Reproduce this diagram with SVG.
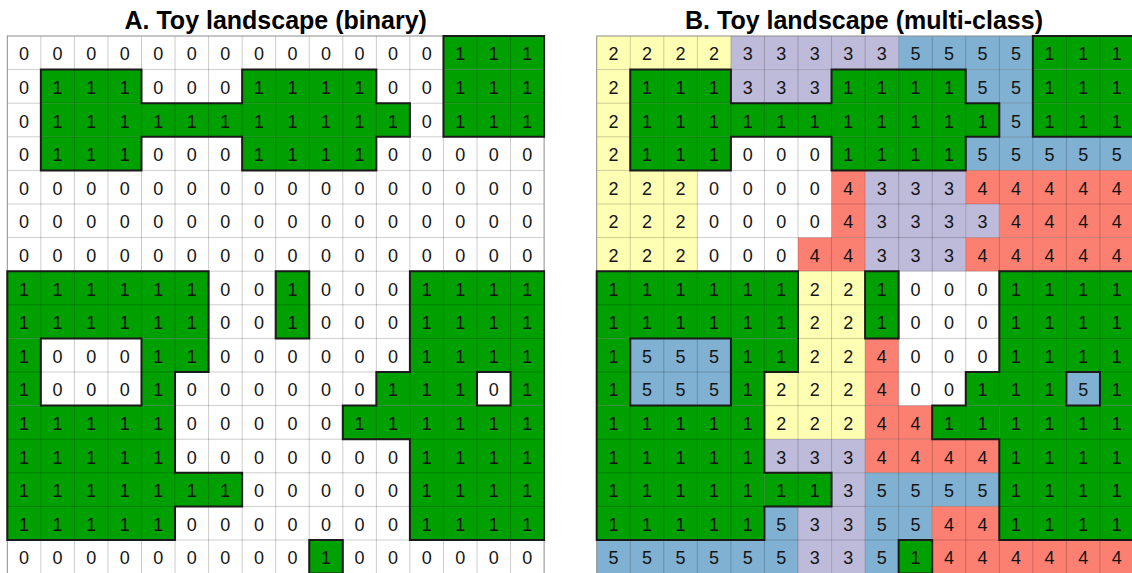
<svg xmlns="http://www.w3.org/2000/svg" xmlns:xlink="http://www.w3.org/1999/xlink" width="1132" height="573" viewBox="0 0 1132 573">
<style>
.title{font-family:"Liberation Sans",Arial,sans-serif;font-weight:bold;font-size:25px;fill:#000;text-anchor:middle}
.num text{font-family:"Liberation Sans",Arial,sans-serif;font-size:18px;fill:#141414;text-anchor:middle}
.v1{fill:#00A000}.v2{fill:#FFFFB3}.v3{fill:#BEBADA}.v4{fill:#FB8072}.v5{fill:#80B1D3}
.bg{fill:#fff}
.grid{fill:none;stroke:#000;stroke-opacity:0.2;stroke-width:1}
.frame{fill:none;stroke:#8c8c8c;stroke-width:1}
.outline{fill:none;stroke:#1a1a1a;stroke-width:2;stroke-linecap:square}
</style>
<defs>
<g id="habitat" class="v1">
<rect x="436.15" y="0" width="100.65" height="33.6"/>
<rect x="33.55" y="33.6" width="100.65" height="33.6"/><rect x="234.85" y="33.6" width="134.2" height="33.6"/><rect x="436.15" y="33.6" width="100.65" height="33.6"/>
<rect x="33.55" y="67.2" width="369.05" height="33.6"/><rect x="436.15" y="67.2" width="100.65" height="33.6"/>
<rect x="33.55" y="100.8" width="100.65" height="33.6"/><rect x="234.85" y="100.8" width="134.2" height="33.6"/>
<rect x="0" y="235.2" width="201.3" height="67.2"/><rect x="268.4" y="235.2" width="33.55" height="67.2"/><rect x="402.6" y="235.2" width="134.2" height="100.8"/>
<rect x="0" y="302.4" width="33.55" height="67.2"/><rect x="134.2" y="302.4" width="67.1" height="33.6"/>
<rect x="134.2" y="336" width="33.55" height="33.6"/><rect x="369.05" y="336" width="100.65" height="33.6"/><rect x="503.25" y="336" width="33.55" height="33.6"/>
<rect x="0" y="369.6" width="167.75" height="134.4"/><rect x="335.5" y="369.6" width="67.1" height="33.6"/><rect x="402.6" y="369.6" width="134.2" height="134.4"/>
<rect x="167.75" y="436.8" width="67.1" height="33.6"/>
<rect x="301.95" y="504" width="33.55" height="33.6"/>
</g>
<path id="gridlines" class="grid" d="M33.55 0V537.6M67.1 0V537.6M100.65 0V537.6M134.2 0V537.6M167.75 0V537.6M201.3 0V537.6M234.85 0V537.6M268.4 0V537.6M301.95 0V537.6M335.5 0V537.6M369.05 0V537.6M402.6 0V537.6M436.15 0V537.6M469.7 0V537.6M503.25 0V537.6M0 33.6H536.8M0 67.2H536.8M0 100.8H536.8M0 134.4H536.8M0 168H536.8M0 201.6H536.8M0 235.2H536.8M0 268.8H536.8M0 302.4H536.8M0 336H536.8M0 369.6H536.8M0 403.2H536.8M0 436.8H536.8M0 470.4H536.8M0 504H536.8"/>
<path id="habitatEdge" class="outline" d="M436.15 0H536.8M33.55 33.6H134.2M234.85 33.6H369.05M134.2 67.2H234.85M369.05 67.2H402.6M134.2 100.8H234.85M369.05 100.8H402.6M436.15 100.8H536.8M33.55 134.4H134.2M234.85 134.4H369.05M0 235.2H201.3M268.4 235.2H301.95M402.6 235.2H536.8M33.55 302.4H134.2M268.4 302.4H301.95M167.75 336H201.3M369.05 336H402.6M469.7 336H503.25M33.55 369.6H134.2M335.5 369.6H369.05M469.7 369.6H503.25M335.5 403.2H402.6M167.75 436.8H234.85M167.75 470.4H234.85M0 504H167.75M301.95 504H335.5M402.6 504H536.8M301.95 537.6H335.5M0 235.2V504M33.55 33.6V134.4M33.55 302.4V369.6M134.2 33.6V67.2M134.2 100.8V134.4M134.2 302.4V369.6M167.75 336V436.8M167.75 470.4V504M201.3 235.2V336M234.85 33.6V67.2M234.85 100.8V134.4M234.85 436.8V470.4M268.4 235.2V302.4M301.95 235.2V302.4M301.95 504V537.6M335.5 369.6V403.2M335.5 504V537.6M369.05 33.6V67.2M369.05 100.8V134.4M369.05 336V369.6M402.6 67.2V100.8M402.6 235.2V336M402.6 403.2V504M436.15 0V100.8M469.7 336V369.6M503.25 336V369.6M536.8 0V100.8M536.8 235.2V504"/>
</defs>

<text class="title" x="275.7" y="29">A. Toy landscape (binary)</text>
<text class="title" x="864" y="29">B. Toy landscape (multi-class)</text>

<g id="panelA" transform="translate(7.3,36)">
<rect class="bg" x="0" y="0" width="536.8" height="537.6"/>
<use xlink:href="#habitat" href="#habitat"/>
<use xlink:href="#gridlines" href="#gridlines"/>
<rect class="frame" x="0" y="0" width="536.8" height="537.6"/>
<use xlink:href="#habitatEdge" href="#habitatEdge"/>
<g class="num">
<g transform="translate(0,24.3)"><text x="16.78">0</text><text x="50.33">0</text><text x="83.88">0</text><text x="117.43">0</text><text x="150.98">0</text><text x="184.53">0</text><text x="218.08">0</text><text x="251.63">0</text><text x="285.18">0</text><text x="318.73">0</text><text x="352.28">0</text><text x="385.83">0</text><text x="419.38">0</text><text x="452.93">1</text><text x="486.48">1</text><text x="520.03">1</text></g>
<g transform="translate(0,57.9)"><text x="16.78">0</text><text x="50.33">1</text><text x="83.88">1</text><text x="117.43">1</text><text x="150.98">0</text><text x="184.53">0</text><text x="218.08">0</text><text x="251.63">1</text><text x="285.18">1</text><text x="318.73">1</text><text x="352.28">1</text><text x="385.83">0</text><text x="419.38">0</text><text x="452.93">1</text><text x="486.48">1</text><text x="520.03">1</text></g>
<g transform="translate(0,91.5)"><text x="16.78">0</text><text x="50.33">1</text><text x="83.88">1</text><text x="117.43">1</text><text x="150.98">1</text><text x="184.53">1</text><text x="218.08">1</text><text x="251.63">1</text><text x="285.18">1</text><text x="318.73">1</text><text x="352.28">1</text><text x="385.83">1</text><text x="419.38">0</text><text x="452.93">1</text><text x="486.48">1</text><text x="520.03">1</text></g>
<g transform="translate(0,125.1)"><text x="16.78">0</text><text x="50.33">1</text><text x="83.88">1</text><text x="117.43">1</text><text x="150.98">0</text><text x="184.53">0</text><text x="218.08">0</text><text x="251.63">1</text><text x="285.18">1</text><text x="318.73">1</text><text x="352.28">1</text><text x="385.83">0</text><text x="419.38">0</text><text x="452.93">0</text><text x="486.48">0</text><text x="520.03">0</text></g>
<g transform="translate(0,158.7)"><text x="16.78">0</text><text x="50.33">0</text><text x="83.88">0</text><text x="117.43">0</text><text x="150.98">0</text><text x="184.53">0</text><text x="218.08">0</text><text x="251.63">0</text><text x="285.18">0</text><text x="318.73">0</text><text x="352.28">0</text><text x="385.83">0</text><text x="419.38">0</text><text x="452.93">0</text><text x="486.48">0</text><text x="520.03">0</text></g>
<g transform="translate(0,192.3)"><text x="16.78">0</text><text x="50.33">0</text><text x="83.88">0</text><text x="117.43">0</text><text x="150.98">0</text><text x="184.53">0</text><text x="218.08">0</text><text x="251.63">0</text><text x="285.18">0</text><text x="318.73">0</text><text x="352.28">0</text><text x="385.83">0</text><text x="419.38">0</text><text x="452.93">0</text><text x="486.48">0</text><text x="520.03">0</text></g>
<g transform="translate(0,225.9)"><text x="16.78">0</text><text x="50.33">0</text><text x="83.88">0</text><text x="117.43">0</text><text x="150.98">0</text><text x="184.53">0</text><text x="218.08">0</text><text x="251.63">0</text><text x="285.18">0</text><text x="318.73">0</text><text x="352.28">0</text><text x="385.83">0</text><text x="419.38">0</text><text x="452.93">0</text><text x="486.48">0</text><text x="520.03">0</text></g>
<g transform="translate(0,259.5)"><text x="16.78">1</text><text x="50.33">1</text><text x="83.88">1</text><text x="117.43">1</text><text x="150.98">1</text><text x="184.53">1</text><text x="218.08">0</text><text x="251.63">0</text><text x="285.18">1</text><text x="318.73">0</text><text x="352.28">0</text><text x="385.83">0</text><text x="419.38">1</text><text x="452.93">1</text><text x="486.48">1</text><text x="520.03">1</text></g>
<g transform="translate(0,293.1)"><text x="16.78">1</text><text x="50.33">1</text><text x="83.88">1</text><text x="117.43">1</text><text x="150.98">1</text><text x="184.53">1</text><text x="218.08">0</text><text x="251.63">0</text><text x="285.18">1</text><text x="318.73">0</text><text x="352.28">0</text><text x="385.83">0</text><text x="419.38">1</text><text x="452.93">1</text><text x="486.48">1</text><text x="520.03">1</text></g>
<g transform="translate(0,326.7)"><text x="16.78">1</text><text x="50.33">0</text><text x="83.88">0</text><text x="117.43">0</text><text x="150.98">1</text><text x="184.53">1</text><text x="218.08">0</text><text x="251.63">0</text><text x="285.18">0</text><text x="318.73">0</text><text x="352.28">0</text><text x="385.83">0</text><text x="419.38">1</text><text x="452.93">1</text><text x="486.48">1</text><text x="520.03">1</text></g>
<g transform="translate(0,360.3)"><text x="16.78">1</text><text x="50.33">0</text><text x="83.88">0</text><text x="117.43">0</text><text x="150.98">1</text><text x="184.53">0</text><text x="218.08">0</text><text x="251.63">0</text><text x="285.18">0</text><text x="318.73">0</text><text x="352.28">0</text><text x="385.83">1</text><text x="419.38">1</text><text x="452.93">1</text><text x="486.48">0</text><text x="520.03">1</text></g>
<g transform="translate(0,393.9)"><text x="16.78">1</text><text x="50.33">1</text><text x="83.88">1</text><text x="117.43">1</text><text x="150.98">1</text><text x="184.53">0</text><text x="218.08">0</text><text x="251.63">0</text><text x="285.18">0</text><text x="318.73">0</text><text x="352.28">1</text><text x="385.83">1</text><text x="419.38">1</text><text x="452.93">1</text><text x="486.48">1</text><text x="520.03">1</text></g>
<g transform="translate(0,427.5)"><text x="16.78">1</text><text x="50.33">1</text><text x="83.88">1</text><text x="117.43">1</text><text x="150.98">1</text><text x="184.53">0</text><text x="218.08">0</text><text x="251.63">0</text><text x="285.18">0</text><text x="318.73">0</text><text x="352.28">0</text><text x="385.83">0</text><text x="419.38">1</text><text x="452.93">1</text><text x="486.48">1</text><text x="520.03">1</text></g>
<g transform="translate(0,461.1)"><text x="16.78">1</text><text x="50.33">1</text><text x="83.88">1</text><text x="117.43">1</text><text x="150.98">1</text><text x="184.53">1</text><text x="218.08">1</text><text x="251.63">0</text><text x="285.18">0</text><text x="318.73">0</text><text x="352.28">0</text><text x="385.83">0</text><text x="419.38">1</text><text x="452.93">1</text><text x="486.48">1</text><text x="520.03">1</text></g>
<g transform="translate(0,494.7)"><text x="16.78">1</text><text x="50.33">1</text><text x="83.88">1</text><text x="117.43">1</text><text x="150.98">1</text><text x="184.53">0</text><text x="218.08">0</text><text x="251.63">0</text><text x="285.18">0</text><text x="318.73">0</text><text x="352.28">0</text><text x="385.83">0</text><text x="419.38">1</text><text x="452.93">1</text><text x="486.48">1</text><text x="520.03">1</text></g>
<g transform="translate(0,528.3)"><text x="16.78">0</text><text x="50.33">0</text><text x="83.88">0</text><text x="117.43">0</text><text x="150.98">0</text><text x="184.53">0</text><text x="218.08">0</text><text x="251.63">0</text><text x="285.18">0</text><text x="318.73">1</text><text x="352.28">0</text><text x="385.83">0</text><text x="419.38">0</text><text x="452.93">0</text><text x="486.48">0</text><text x="520.03">0</text></g>
</g>
</g>

<g id="panelB" transform="translate(596.7,36)">
<rect class="bg" x="0" y="0" width="536.8" height="537.6"/>
<use xlink:href="#habitat" href="#habitat"/>
<g id="classes">
<rect class="v2" x="0" y="0" width="134.2" height="33.6"/><rect class="v3" x="134.2" y="0" width="167.75" height="33.6"/><rect class="v5" x="301.95" y="0" width="134.2" height="33.6"/>
<rect class="v2" x="0" y="33.6" width="33.55" height="100.8"/><rect class="v3" x="134.2" y="33.6" width="100.65" height="33.6"/><rect class="v5" x="369.05" y="33.6" width="67.1" height="33.6"/>
<rect class="v5" x="402.6" y="67.2" width="33.55" height="33.6"/>
<rect class="v5" x="369.05" y="100.8" width="167.75" height="33.6"/>
<rect class="v2" x="0" y="134.4" width="100.65" height="100.8"/><rect class="v4" x="234.85" y="134.4" width="33.55" height="67.2"/><rect class="v3" x="268.4" y="134.4" width="100.65" height="100.8"/><rect class="v4" x="369.05" y="134.4" width="167.75" height="33.6"/>
<rect class="v3" x="369.05" y="168" width="33.55" height="33.6"/><rect class="v4" x="402.6" y="168" width="134.2" height="33.6"/>
<rect class="v4" x="201.3" y="201.6" width="67.1" height="33.6"/><rect class="v4" x="369.05" y="201.6" width="167.75" height="33.6"/>
<rect class="v2" x="201.3" y="235.2" width="67.1" height="168"/>
<rect class="v5" x="33.55" y="302.4" width="100.65" height="67.2"/><rect class="v4" x="268.4" y="302.4" width="33.55" height="67.2"/>
<rect class="v2" x="167.75" y="336" width="33.55" height="67.2"/><rect class="v5" x="469.7" y="336" width="33.55" height="33.6"/>
<rect class="v4" x="268.4" y="369.6" width="67.1" height="33.6"/>
<rect class="v3" x="167.75" y="403.2" width="100.65" height="33.6"/><rect class="v4" x="268.4" y="403.2" width="134.2" height="33.6"/>
<rect class="v3" x="234.85" y="436.8" width="33.55" height="100.8"/><rect class="v5" x="268.4" y="436.8" width="134.2" height="33.6"/>
<rect class="v5" x="167.75" y="470.4" width="33.55" height="33.6"/><rect class="v3" x="201.3" y="470.4" width="33.55" height="67.2"/><rect class="v5" x="268.4" y="470.4" width="67.1" height="33.6"/><rect class="v4" x="335.5" y="470.4" width="67.1" height="33.6"/>
<rect class="v5" x="0" y="504" width="201.3" height="33.6"/><rect class="v5" x="268.4" y="504" width="33.55" height="33.6"/><rect class="v4" x="335.5" y="504" width="201.3" height="33.6"/>
</g>
<use xlink:href="#gridlines" href="#gridlines"/>
<rect class="frame" x="0" y="0" width="536.8" height="537.6"/>
<use xlink:href="#habitatEdge" href="#habitatEdge"/>
<g class="num">
<g transform="translate(0,24.3)"><text x="16.78">2</text><text x="50.33">2</text><text x="83.88">2</text><text x="117.43">2</text><text x="150.98">3</text><text x="184.53">3</text><text x="218.08">3</text><text x="251.63">3</text><text x="285.18">3</text><text x="318.73">5</text><text x="352.28">5</text><text x="385.83">5</text><text x="419.38">5</text><text x="452.93">1</text><text x="486.48">1</text><text x="520.03">1</text></g>
<g transform="translate(0,57.9)"><text x="16.78">2</text><text x="50.33">1</text><text x="83.88">1</text><text x="117.43">1</text><text x="150.98">3</text><text x="184.53">3</text><text x="218.08">3</text><text x="251.63">1</text><text x="285.18">1</text><text x="318.73">1</text><text x="352.28">1</text><text x="385.83">5</text><text x="419.38">5</text><text x="452.93">1</text><text x="486.48">1</text><text x="520.03">1</text></g>
<g transform="translate(0,91.5)"><text x="16.78">2</text><text x="50.33">1</text><text x="83.88">1</text><text x="117.43">1</text><text x="150.98">1</text><text x="184.53">1</text><text x="218.08">1</text><text x="251.63">1</text><text x="285.18">1</text><text x="318.73">1</text><text x="352.28">1</text><text x="385.83">1</text><text x="419.38">5</text><text x="452.93">1</text><text x="486.48">1</text><text x="520.03">1</text></g>
<g transform="translate(0,125.1)"><text x="16.78">2</text><text x="50.33">1</text><text x="83.88">1</text><text x="117.43">1</text><text x="150.98">0</text><text x="184.53">0</text><text x="218.08">0</text><text x="251.63">1</text><text x="285.18">1</text><text x="318.73">1</text><text x="352.28">1</text><text x="385.83">5</text><text x="419.38">5</text><text x="452.93">5</text><text x="486.48">5</text><text x="520.03">5</text></g>
<g transform="translate(0,158.7)"><text x="16.78">2</text><text x="50.33">2</text><text x="83.88">2</text><text x="117.43">0</text><text x="150.98">0</text><text x="184.53">0</text><text x="218.08">0</text><text x="251.63">4</text><text x="285.18">3</text><text x="318.73">3</text><text x="352.28">3</text><text x="385.83">4</text><text x="419.38">4</text><text x="452.93">4</text><text x="486.48">4</text><text x="520.03">4</text></g>
<g transform="translate(0,192.3)"><text x="16.78">2</text><text x="50.33">2</text><text x="83.88">2</text><text x="117.43">0</text><text x="150.98">0</text><text x="184.53">0</text><text x="218.08">0</text><text x="251.63">4</text><text x="285.18">3</text><text x="318.73">3</text><text x="352.28">3</text><text x="385.83">3</text><text x="419.38">4</text><text x="452.93">4</text><text x="486.48">4</text><text x="520.03">4</text></g>
<g transform="translate(0,225.9)"><text x="16.78">2</text><text x="50.33">2</text><text x="83.88">2</text><text x="117.43">0</text><text x="150.98">0</text><text x="184.53">0</text><text x="218.08">4</text><text x="251.63">4</text><text x="285.18">3</text><text x="318.73">3</text><text x="352.28">3</text><text x="385.83">4</text><text x="419.38">4</text><text x="452.93">4</text><text x="486.48">4</text><text x="520.03">4</text></g>
<g transform="translate(0,259.5)"><text x="16.78">1</text><text x="50.33">1</text><text x="83.88">1</text><text x="117.43">1</text><text x="150.98">1</text><text x="184.53">1</text><text x="218.08">2</text><text x="251.63">2</text><text x="285.18">1</text><text x="318.73">0</text><text x="352.28">0</text><text x="385.83">0</text><text x="419.38">1</text><text x="452.93">1</text><text x="486.48">1</text><text x="520.03">1</text></g>
<g transform="translate(0,293.1)"><text x="16.78">1</text><text x="50.33">1</text><text x="83.88">1</text><text x="117.43">1</text><text x="150.98">1</text><text x="184.53">1</text><text x="218.08">2</text><text x="251.63">2</text><text x="285.18">1</text><text x="318.73">0</text><text x="352.28">0</text><text x="385.83">0</text><text x="419.38">1</text><text x="452.93">1</text><text x="486.48">1</text><text x="520.03">1</text></g>
<g transform="translate(0,326.7)"><text x="16.78">1</text><text x="50.33">5</text><text x="83.88">5</text><text x="117.43">5</text><text x="150.98">1</text><text x="184.53">1</text><text x="218.08">2</text><text x="251.63">2</text><text x="285.18">4</text><text x="318.73">0</text><text x="352.28">0</text><text x="385.83">0</text><text x="419.38">1</text><text x="452.93">1</text><text x="486.48">1</text><text x="520.03">1</text></g>
<g transform="translate(0,360.3)"><text x="16.78">1</text><text x="50.33">5</text><text x="83.88">5</text><text x="117.43">5</text><text x="150.98">1</text><text x="184.53">2</text><text x="218.08">2</text><text x="251.63">2</text><text x="285.18">4</text><text x="318.73">0</text><text x="352.28">0</text><text x="385.83">1</text><text x="419.38">1</text><text x="452.93">1</text><text x="486.48">5</text><text x="520.03">1</text></g>
<g transform="translate(0,393.9)"><text x="16.78">1</text><text x="50.33">1</text><text x="83.88">1</text><text x="117.43">1</text><text x="150.98">1</text><text x="184.53">2</text><text x="218.08">2</text><text x="251.63">2</text><text x="285.18">4</text><text x="318.73">4</text><text x="352.28">1</text><text x="385.83">1</text><text x="419.38">1</text><text x="452.93">1</text><text x="486.48">1</text><text x="520.03">1</text></g>
<g transform="translate(0,427.5)"><text x="16.78">1</text><text x="50.33">1</text><text x="83.88">1</text><text x="117.43">1</text><text x="150.98">1</text><text x="184.53">3</text><text x="218.08">3</text><text x="251.63">3</text><text x="285.18">4</text><text x="318.73">4</text><text x="352.28">4</text><text x="385.83">4</text><text x="419.38">1</text><text x="452.93">1</text><text x="486.48">1</text><text x="520.03">1</text></g>
<g transform="translate(0,461.1)"><text x="16.78">1</text><text x="50.33">1</text><text x="83.88">1</text><text x="117.43">1</text><text x="150.98">1</text><text x="184.53">1</text><text x="218.08">1</text><text x="251.63">3</text><text x="285.18">5</text><text x="318.73">5</text><text x="352.28">5</text><text x="385.83">5</text><text x="419.38">1</text><text x="452.93">1</text><text x="486.48">1</text><text x="520.03">1</text></g>
<g transform="translate(0,494.7)"><text x="16.78">1</text><text x="50.33">1</text><text x="83.88">1</text><text x="117.43">1</text><text x="150.98">1</text><text x="184.53">5</text><text x="218.08">3</text><text x="251.63">3</text><text x="285.18">5</text><text x="318.73">5</text><text x="352.28">4</text><text x="385.83">4</text><text x="419.38">1</text><text x="452.93">1</text><text x="486.48">1</text><text x="520.03">1</text></g>
<g transform="translate(0,528.3)"><text x="16.78">5</text><text x="50.33">5</text><text x="83.88">5</text><text x="117.43">5</text><text x="150.98">5</text><text x="184.53">5</text><text x="218.08">3</text><text x="251.63">3</text><text x="285.18">5</text><text x="318.73">1</text><text x="352.28">4</text><text x="385.83">4</text><text x="419.38">4</text><text x="452.93">4</text><text x="486.48">4</text><text x="520.03">4</text></g>
</g>
</g>
</svg>
